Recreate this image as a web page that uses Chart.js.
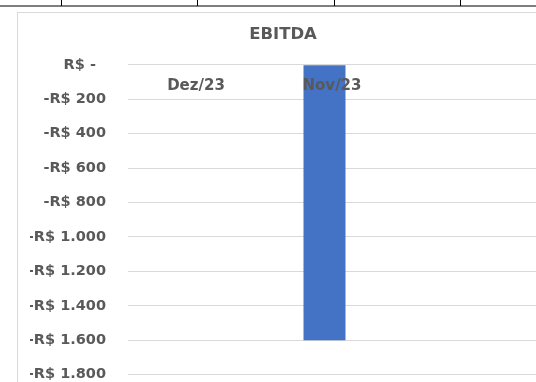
<!DOCTYPE html>
<html>
<head>
<meta charset="utf-8">
<script src="https://cdn.jsdelivr.net/npm/chart.js@4.4.1/dist/chart.umd.min.js"></script>
<style>
  html, body { margin: 0; padding: 0; background: #fff; overflow: hidden; }
  #sheet { position: absolute; left: 0; top: 0; width: 536px; height: 382px; overflow: hidden; }
  #rowline { position: absolute; left: 0; top: 5px; width: 536px; height: 2px; background: #7f7f7f; }
  .col { position: absolute; top: 0; width: 1px; height: 6px; background: #000; }
  #box { position: absolute; left: 17px; top: 12px; width: 530px; height: 440px;
         border: 1px solid #d9d9d9; background: #fff; }
</style>
</head>
<body>
<div id="sheet">
  <div id="rowline"></div>
  <div class="col" style="left:61px"></div>
  <div class="col" style="left:197px"></div>
  <div class="col" style="left:334px"></div>
  <div class="col" style="left:460px"></div>
  <div id="box"><canvas id="myChart" width="530" height="440"></canvas></div>
</div>
<script>
// data (the chart is cropped on the right / bottom)
const categories = ['Dez/23', 'Nov/23', ''];
const ebitda = [0, -1600, null];
const otherSeries = [null, null, null];   // 2nd series of the workbook, empty
const yMin = -2000;
const yMax = 0;
const yStep = 200;

function fmtReais(v) {
  if (v === 0) return 'R$ -  ';
  var s = String(Math.abs(v)).replace(/\B(?=(\d{3})+(?!\d))/g, '.');
  return (v < 0 ? '-' : '') + 'R$ ' + s;
}

const grey = '#595959';
const font = 'DejaVu Sans';

var ctx = document.getElementById('myChart').getContext('2d');
new Chart(ctx, {
  type: 'bar',
  data: {
    labels: categories,
    datasets: [{
      label: 'EBITDA',
      data: ebitda,
      backgroundColor: '#4472C4',
      borderWidth: 0
    }, {
      label: '',
      data: otherSeries,
      backgroundColor: '#ED7D31',
      borderWidth: 0
    }]
  },
  options: {
    responsive: false,
    animation: false,
    layout: { padding: { left: 12, right: 12, top: 0, bottom: 44 } },
    datasets: {
      bar: { categoryPercentage: 0.2206, barPercentage: 2.8 }
    },
    plugins: {
      legend: { display: false },
      tooltip: { enabled: false },
      title: {
        display: true,
        text: 'EBITDA',
        color: grey,
        font: { family: font, size: 16.5, weight: 'bold' },
        padding: { top: 12, bottom: 20 }
      }
    },
    scales: {
      x: {
        position: { y: 0 },
        grid: { display: false, drawTicks: false },
        border: { display: false },
        ticks: {
          z: 1,   // labels over the bar, like the Excel original
          color: grey,
          padding: 12,
          maxRotation: 0,
          autoSkip: false,
          font: { family: font, size: 15, weight: 'bold' }
        }
      },
      y: {
        min: yMin,
        max: yMax,
        grid: { color: '#d9d9d9', drawTicks: false },
        border: { display: false },
        afterFit: function (scale) { scale.width = 98; },
        ticks: {
          stepSize: yStep,
          color: grey,
          padding: 22,
          font: { family: font, size: 14.5, weight: 'bold' },
          callback: function (v) { return fmtReais(v); }
        }
      }
    }
  }
});
</script>
</body>
</html>
